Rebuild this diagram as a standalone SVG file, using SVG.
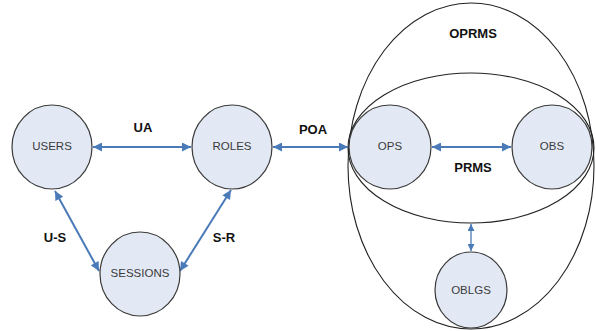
<svg xmlns="http://www.w3.org/2000/svg" width="596" height="331" viewBox="0 0 596 331">
<style>
.node{fill:#e3e9f4;stroke:#3a3a3a;stroke-width:1.2}
.ring{fill:none;stroke:#222;stroke-width:1.1}
.nl{font-family:"Liberation Sans",Arial,sans-serif;font-size:11.5px;fill:#3a3a3a;text-anchor:middle;dominant-baseline:central}
.el{font-family:"Liberation Sans",Arial,sans-serif;font-size:13px;font-weight:bold;fill:#111;text-anchor:middle;dominant-baseline:central}
.con{stroke:#4a7ab8;stroke-width:2;fill:none;marker-start:url(#ah);marker-end:url(#ah)}
.con2{stroke:#4a7ab8;stroke-width:1.3;fill:none;marker-start:url(#ah2);marker-end:url(#ah2)}
</style>
<defs>
<marker id="ah" viewBox="0 0 10 10" refX="10" refY="5" markerUnits="userSpaceOnUse" markerWidth="10" markerHeight="9" orient="auto-start-reverse"><path d="M0,0 L10,5 L0,10 z" fill="#4a7ab8"/></marker>
<marker id="ah2" viewBox="0 0 10 10" refX="10" refY="5" markerUnits="userSpaceOnUse" markerWidth="7" markerHeight="7" orient="auto-start-reverse"><path d="M0,0 L10,5 L0,10 z" fill="#4a7ab8"/></marker>
</defs>
<rect width="596" height="331" fill="#fff"/>
<g id="OPRMS">
<ellipse class="ring" cx="471" cy="166" rx="123" ry="163"/>
<text class="el" x="473" y="33">OPRMS</text>
</g>
<g id="PRMS">
<ellipse class="ring" cx="471" cy="148" rx="123" ry="75"/>
<text class="el" x="473" y="167">PRMS</text>
</g>
<g id="connectors">
<line class="con" x1="93" y1="147" x2="191" y2="147"/>
<line class="con" x1="273" y1="147" x2="348" y2="147"/>
<line class="con" x1="432" y1="147" x2="511" y2="147"/>
<line class="con" x1="55" y1="191" x2="99" y2="271"/>
<line class="con" x1="231" y1="190" x2="180" y2="271"/>
<line class="con2" x1="471" y1="224" x2="471" y2="251"/>
<text class="el" x="143" y="127">UA</text>
<text class="el" x="313" y="129">POA</text>
<text class="el" x="55" y="237">U-S</text>
<text class="el" x="224" y="237">S-R</text>
</g>
<g id="USERS"><ellipse class="node" cx="52" cy="147" rx="40" ry="42"/><text class="nl" x="52" y="146">USERS</text></g>
<g id="ROLES"><ellipse class="node" cx="232" cy="147" rx="40" ry="42"/><text class="nl" x="232" y="146">ROLES</text></g>
<g id="SESSIONS"><ellipse class="node" cx="140" cy="274" rx="40" ry="42"/><text class="nl" x="140" y="273">SESSIONS</text></g>
<g id="OPS"><ellipse class="node" cx="390" cy="147" rx="41" ry="42"/><text class="nl" x="390" y="146">OPS</text></g>
<g id="OBS"><ellipse class="node" cx="552" cy="147" rx="40" ry="42"/><text class="nl" x="552" y="146">OBS</text></g>
<g id="OBLGS"><ellipse class="node" cx="471" cy="290" rx="36" ry="38"/><text class="nl" x="471" y="290">OBLGS</text></g>
</svg>
